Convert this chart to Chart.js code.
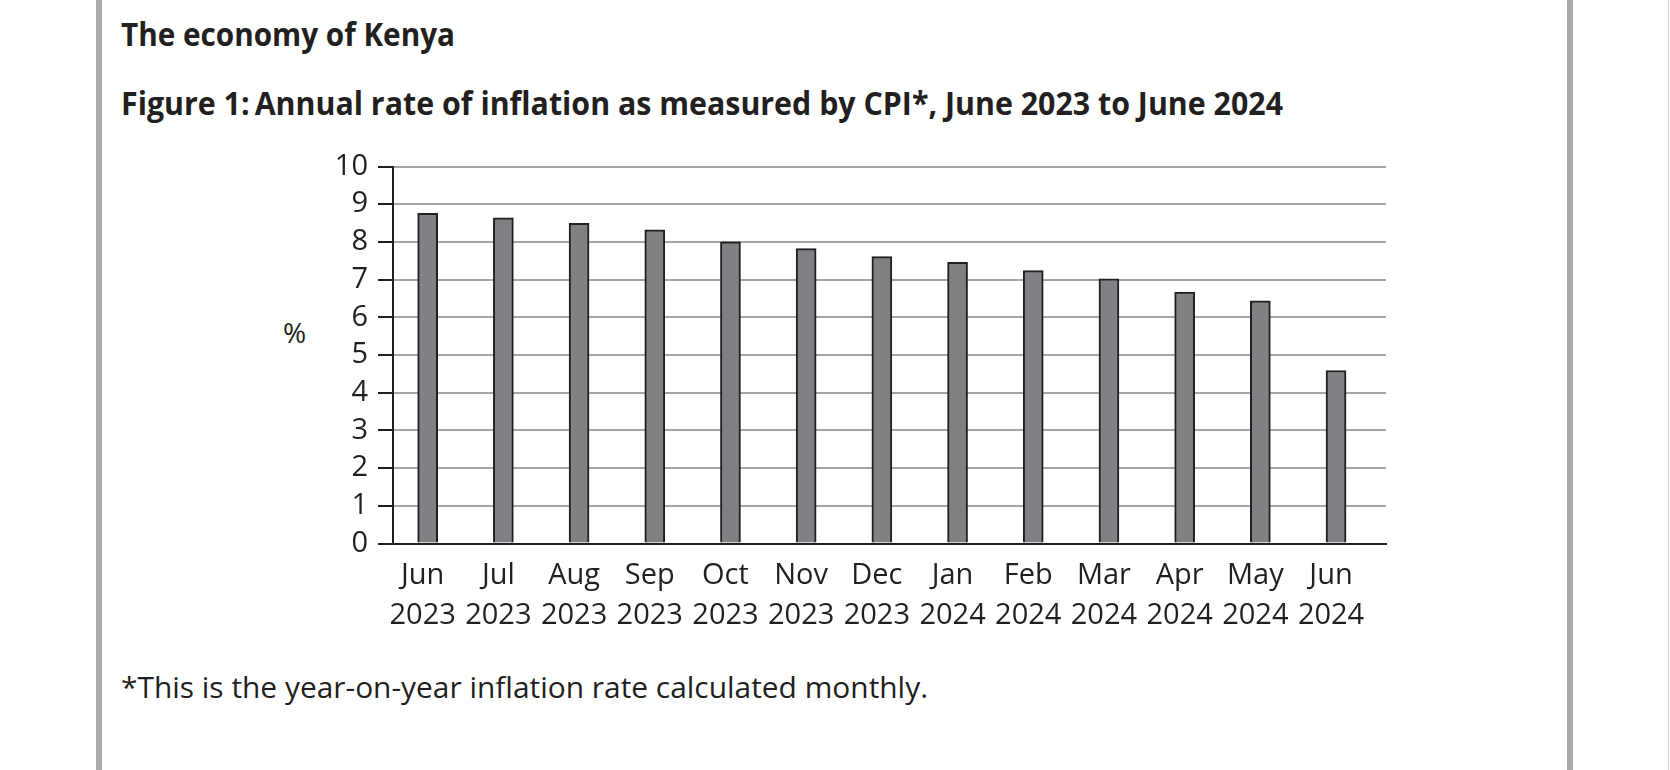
<!DOCTYPE html>
<html>
<head>
<meta charset="utf-8">
<script src="https://cdn.jsdelivr.net/npm/chart.js@4.4.1/dist/chart.umd.min.js"></script>
<style>
  html, body { margin: 0; padding: 0; background: #fff; }
  body { width: 1670px; height: 770px; position: relative; overflow: hidden;
         font-family: 'Open Sans', sans-serif; color: #231f20; }
  .rule { position: absolute; top: 0; height: 770px; }
  .txt { position: absolute; white-space: nowrap; transform-origin: 0 0; line-height: 1; }
  canvas { position: absolute; left: 0; top: 0; }
</style>
</head>
<body>
<div class="rule" style="left:96px;width:6px;background:#a9aaad"></div>
<div class="rule" style="left:1567px;width:6px;background:#a9aaad"></div>
<div class="rule" style="left:1668px;width:1px;background:#d0d0d2"></div>

<div class="txt fit" data-w="334" style="left:121px;top:18px;font-size:32px;font-weight:700">The economy of Kenya</div>
<div class="txt fit" data-w="1162" style="left:121px;top:87px;font-size:32px;font-weight:700">Figure 1:&thinsp;Annual rate of inflation as measured by CPI*, June 2023 to June 2024</div>
<div class="txt" style="left:283px;top:318px;font-size:28px">%</div>
<div class="txt fit" data-w="807" style="left:121px;top:672px;font-size:30px">*This is the year-on-year inflation rate calculated monthly.</div>

<canvas id="chart" width="1670" height="770"></canvas>

<script>
// values
const months = ['Jun', 'Jul', 'Aug', 'Sep', 'Oct', 'Nov', 'Dec', 'Jan', 'Feb', 'Mar', 'Apr', 'May', 'Jun'];
const years = ['2023', '2023', '2023', '2023', '2023', '2023', '2023', '2024', '2024', '2024', '2024', '2024', '2024'];
const inflation = [8.76, 8.64, 8.49, 8.32, 8.00, 7.82, 7.61, 7.46, 7.24, 7.02, 6.67, 6.44, 4.59];
const yTicks = [0, 1, 2, 3, 4, 5, 6, 7, 8, 9, 10];

const INK = '#231f20';
const GRID = '#a3a5a8';

// squeeze headings to the width of the original (narrower) typeface
document.querySelectorAll('.fit').forEach(el => {
    let w = el.getBoundingClientRect().width;
    el.style.transform = 'scaleX(' + (el.dataset.w / w) + ')';
});

Chart.defaults.font.family = "'Open Sans', sans-serif";
Chart.defaults.color = INK;

new Chart(document.getElementById('chart'), {
    type: 'bar',
    data: {
        datasets: [{
            data: inflation.map((v, i) => ({ x: i, y: v })),
            backgroundColor: '#808184',
            borderColor: INK,
            borderWidth: 2,
            barThickness: 20
        }]
    },
    options: {
        responsive: false,
        animation: false,
        layout: { padding: { left: 273, right: 284, top: 166.5, bottom: 136.5 } },
        plugins: { legend: { display: false }, tooltip: { enabled: false } },
        scales: {
            x: {
                type: 'linear',
                offset: false,
                min: -0.458,
                max: 12.66,
                afterFit: s => { s.height = 90; },
                afterBuildTicks: s => { s.ticks = months.map((m, i) => ({ value: i })); },
                grid: { display: false, drawTicks: false, offset: false },
                border: { color: INK, width: 2 },
                ticks: {
                    autoSkip: false,
                    maxRotation: 0,
                    padding: 12,
                    labelOffset: -5,
                    color: INK,
                    font: { size: 29, lineHeight: '40px' },
                    callback: v => [months[v], years[v]]
                }
            },
            y: {
                min: 0,
                max: 10,
                afterFit: s => { s.width = 120; },
                afterBuildTicks: s => { s.ticks = yTicks.map(v => ({ value: v })); },
                grid: {
                    color: c => (c.tick && c.tick.value === 0) ? INK : GRID,
                    lineWidth: 2,
                    tickLength: 15,
                    tickColor: INK,
                    tickWidth: 2
                },
                border: { color: INK, width: 2 },
                ticks: { autoSkip: false, padding: 10, color: INK, font: { size: 29 } }
            }
        }
    }
});
</script>
</body>
</html>
